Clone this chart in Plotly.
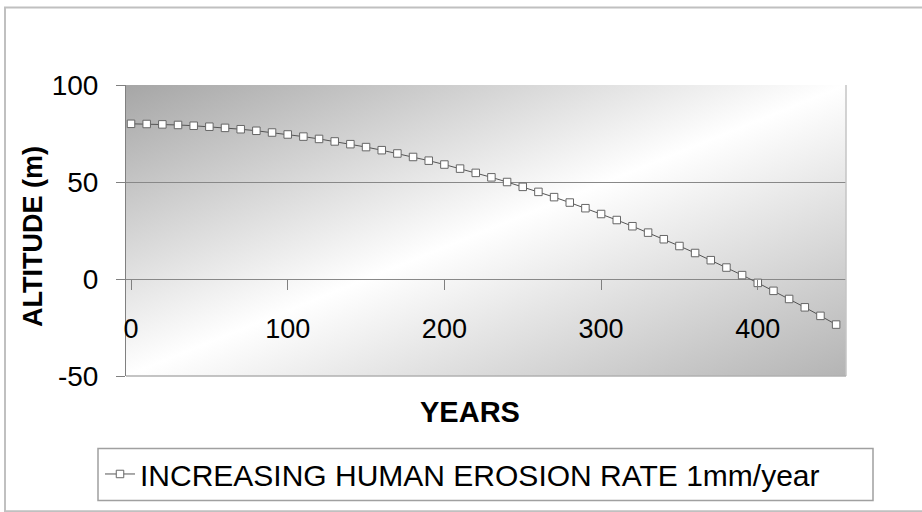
import base64
import plotly.graph_objects as go

# ---- data ----
years = [0, 10, 20, 30, 40, 50, 60, 70, 80, 90,
         100, 110, 120, 130, 140, 150, 160, 170, 180, 190,
         200, 210, 220, 230, 240, 250, 260, 270, 280, 290,
         300, 310, 320, 330, 340, 350, 360, 370, 380, 390,
         400, 410, 420, 430, 440, 450]
altitude = [80.0, 79.9, 79.7, 79.4, 79.0, 78.5, 77.9, 77.2, 76.4, 75.5,
            74.5, 73.4, 72.2, 70.9, 69.5, 68.0, 66.4, 64.7, 62.9, 61.0,
            59.0, 56.9, 54.7, 52.4, 50.0, 47.5, 44.9, 42.2, 39.4, 36.5,
            33.5, 30.4, 27.2, 23.9, 20.5, 17.0, 13.4, 9.7, 5.9, 2.0,
            -2.0, -6.1, -10.3, -14.6, -19.0, -23.5]
series_name = "INCREASING HUMAN EROSION RATE 1mm/year"
x_ticks = [0, 100, 200, 300, 400]
y_ticks = [-50, 0, 50, 100]
y_tick_text = ["-50", "0", "50", "100"]
x_title = "YEARS"
y_title = "ALTITUDE (m)"

# ---- layout geometry (pixels) ----
W, H = 922, 512
L, R, T, B = 126, 846, 85, 382
pw, ph = R - L, B - T


def px(x):
    return (x - L) / pw


def py(y):
    return (B - y) / ph


FONT = "Liberation Sans, Arial, sans-serif"

# diagonal dark-light-dark gradient background (Excel style)
svg = (
    f'<svg xmlns="http://www.w3.org/2000/svg" width="{pw}" height="{ph}" '
    f'viewBox="0 0 {pw} {ph}" preserveAspectRatio="none">'
    '<defs><linearGradient id="g" x1="0" y1="0" x2="1" y2="1">'
    '<stop offset="0" stop-color="#a6a6a6"/>'
    '<stop offset="0.5" stop-color="#ffffff"/>'
    '<stop offset="1" stop-color="#b4b4b4"/>'
    '</linearGradient></defs>'
    f'<rect x="0" y="0" width="{pw}" height="{ph}" fill="url(#g)"/></svg>'
)
svg_uri = "data:image/svg+xml;base64," + base64.b64encode(svg.encode()).decode()

fig = go.Figure()
fig.add_trace(go.Scatter(
    x=years, y=altitude, mode="lines+markers", name=series_name,
    line=dict(color="#555555", width=1),
    marker=dict(symbol="square", size=7.5, color="white",
                line=dict(color="#666666", width=1)),
))

fig.update_layout(
    width=W, height=H,
    margin=dict(l=L, r=W - R, t=T, b=H - B, pad=0),
    paper_bgcolor="white",
    plot_bgcolor="rgba(0,0,0,0)",
    font=dict(family=FONT, color="black"),
    showlegend=True,
    legend=dict(
        orientation="h", x=px(100), xanchor="left",
        y=py(482), yanchor="middle",
        bgcolor="rgba(0,0,0,0)", borderwidth=0,
        font=dict(size=30, family=FONT, color="black"),
        itemwidth=30,
    ),
    xaxis=dict(
        range=[-3.2, 456.3], tickvals=x_ticks,
        showgrid=False, zeroline=False,
        anchor="free", position=1 / 3,
        showline=False,
        ticks="outside", ticklen=10, tickcolor="#808080", tickwidth=1,
        ticklabelstandoff=16,
        tickfont=dict(size=27, family=FONT, color="black"),
    ),
    yaxis=dict(
        range=[-50, 100], tickvals=y_ticks, ticktext=y_tick_text,
        showgrid=True, gridcolor="#888888", gridwidth=1,
        zeroline=False,
        showline=True, linecolor="#808080", linewidth=1,
        ticks="outside", ticklen=9, tickcolor="#808080", tickwidth=1,
        ticklabelstandoff=12,
        tickfont=dict(size=28, family=FONT, color="black"),
    ),
    images=[dict(source=svg_uri, xref="paper", yref="paper",
                 x=0, y=1, sizex=1, sizey=1, sizing="stretch",
                 xanchor="left", yanchor="top", layer="below")],
    annotations=[
        dict(text=f"<b>{x_title}</b>", xref="paper", yref="paper",
             x=px(470), y=py(419), xanchor="center", yanchor="middle",
             showarrow=False, font=dict(size=29, family=FONT, color="black")),
        dict(text=f"<b>{y_title}</b>", xref="paper", yref="paper",
             x=px(33), y=py(239), xanchor="center", yanchor="middle",
             textangle=-90, showarrow=False,
             font=dict(size=27, family=FONT, color="black")),
    ],
    shapes=[
        # plot area right / bottom border
        dict(type="line", xref="paper", yref="paper", x0=1, x1=1, y0=0, y1=1,
             line=dict(color="#c4c4c4", width=1.5)),
        dict(type="line", xref="paper", yref="paper", x0=0, x1=1, y0=0, y1=0,
             line=dict(color="#b0b0b0", width=1.5)),
        # legend box
        dict(type="rect", xref="paper", yref="paper",
             x0=px(98), x1=px(873), y0=py(509), y1=py(456),
             line=dict(color="#a0a0a0", width=1.5), fillcolor="rgba(0,0,0,0)"),
        # outer chart border
        dict(type="rect", xref="paper", yref="paper",
             x0=px(5), x1=px(930), y0=py(520), y1=py(6),
             line=dict(color="#c0c0c0", width=2), fillcolor="rgba(0,0,0,0)"),
    ],
)

fig.write_html(
    "out.html",
    config={"displayModeBar": False},
    post_script="document.body.style.margin='0';document.body.style.padding='0';"
    "document.documentElement.style.overflow='hidden';",
)
